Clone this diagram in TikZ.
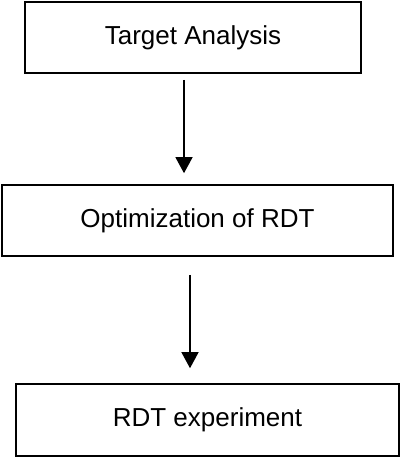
\documentclass[tikz,border=0pt]{standalone}
\usepackage{fontspec}
\setmainfont{Liberation Sans}
\usetikzlibrary{arrows.meta}
\begin{document}
\begin{tikzpicture}[x=1pt,y=-1pt,
  box/.style={draw=black,line width=1.6pt,rectangle,inner sep=0pt,
    font=\fontsize{26}{30}\selectfont},
  flow/.style={line width=1.3pt,-{Triangle[width=17pt,length=16pt]}}]
\useasboundingbox (0,0) rectangle (400,457);
\node[box,minimum width=336pt,minimum height=71pt] (b1) at (193,37.5) {Target Analysis};
\node[box,minimum width=391pt,minimum height=71pt] (b2) at (197.5,220.5) {Optimization of RDT};
\node[box,minimum width=383pt,minimum height=72pt] (b3) at (207.5,420) {RDT experiment};
\draw[flow] ([xshift=-9pt,yshift=-6pt]b1.south) -- ([xshift=-13.5pt,yshift=11pt]b2.north);
\draw[flow] ([xshift=-7.5pt,yshift=-18pt]b2.south) -- ([xshift=-17.5pt,yshift=15pt]b3.north);
\end{tikzpicture}
\end{document}
